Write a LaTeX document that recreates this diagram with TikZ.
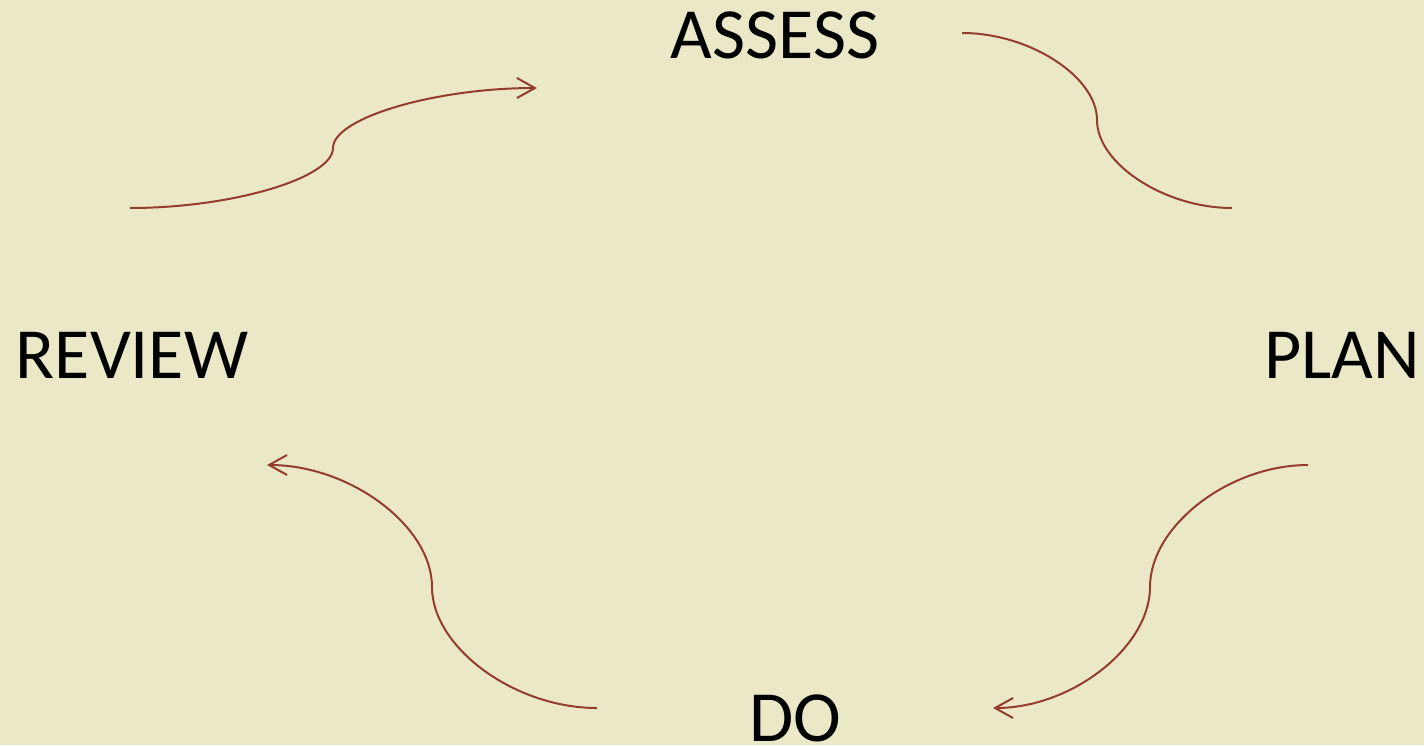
\documentclass[tikz,border=0pt]{standalone}
\usepackage{fontspec}
\setmainfont{Carlito}
\usetikzlibrary{arrows.meta}
\definecolor{paper}{HTML}{EBE8C7}
\definecolor{linkred}{HTML}{943C2E}
\begin{document}
\begin{tikzpicture}[x=1pt,y=-1pt,
    stage/.style={anchor=base,inner sep=0pt,font=\fontsize{72}{80}\selectfont},
    link/.style={draw=linkred,line width=2pt},
    linkarrow/.style={link,-{Straight Barb[length=18pt,width=20pt,line width=2pt]}}]
    \fill[paper] (0,0) rectangle (1424,745);
    \useasboundingbox (0,0) rectangle (1424,745);
    % the four stages
    \node[stage] (assess) at (775,58) {ASSESS};
    \node[stage] (plan) at (1342,378) {PLAN};
    \node[stage] (do) at (795,741) {DO};
    \node[stage] (review) at (132,378) {REVIEW};
    % free ends of the links
    \coordinate (a1) at (130,208); \coordinate (a2) at (537,88);
    \coordinate (b1) at (962,33);  \coordinate (b2) at (1232,208);
    \coordinate (c1) at (1308,465); \coordinate (c2) at (993,708);
    \coordinate (d1) at (597,708); \coordinate (d2) at (267,465);
    % links
    \draw[linkarrow] (a1) .. controls (232,208) and (333,178) .. (333,148)
        .. controls (333,118) and (435,88) .. (a2);
    \draw[link] (b1) .. controls (1030,33) and (1097,77) .. (1097,120)
        .. controls (1097,164) and (1165,208) .. (b2);
    \draw[linkarrow] (c1) .. controls (1229,465) and (1150,526) .. (1150,587)
        .. controls (1150,647) and (1072,708) .. (c2);
    \draw[linkarrow] (d1) .. controls (514,708) and (432,647) .. (432,587)
        .. controls (432,526) and (350,465) .. (d2);
\end{tikzpicture}
\end{document}
